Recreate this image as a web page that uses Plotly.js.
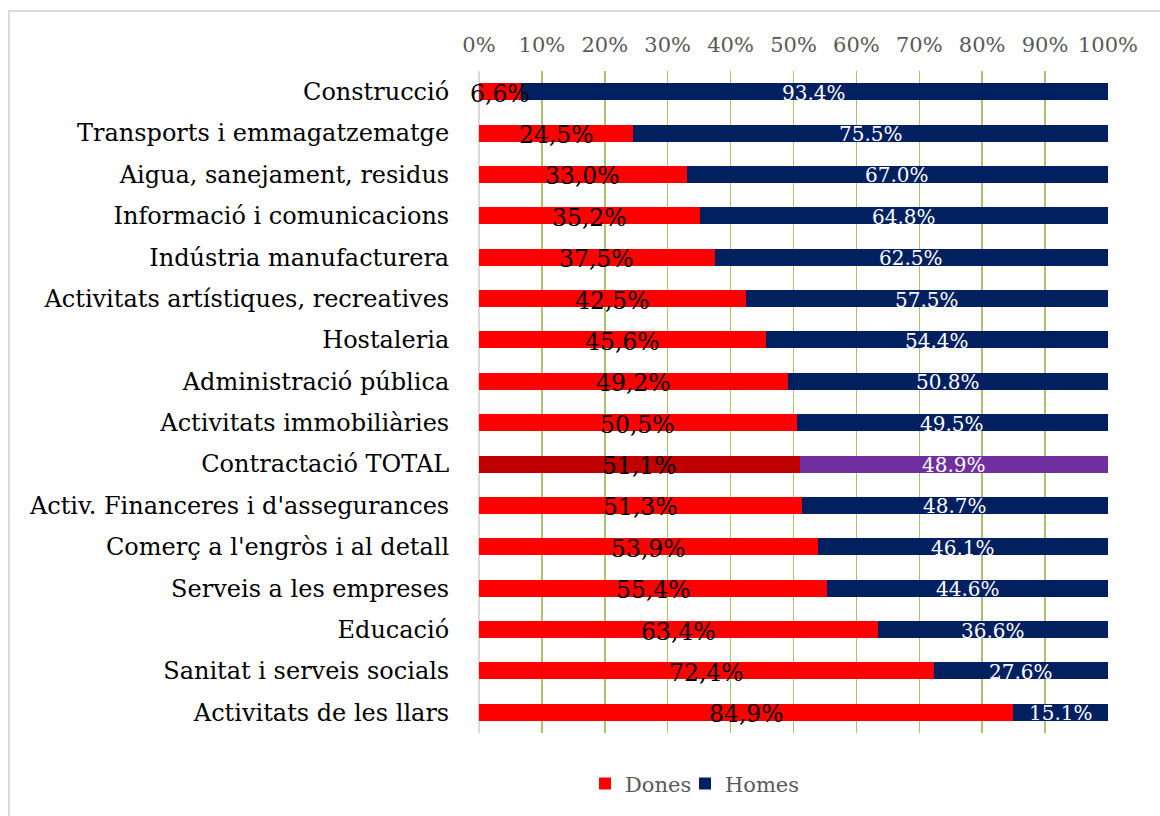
<!DOCTYPE html>
<html><head><meta charset="utf-8">
<script src="https://cdn.plot.ly/plotly-3.0.1.min.js"></script>
<style>
html,body{margin:0;padding:0;background:#fff;overflow:hidden;}
#frame{position:absolute;left:8px;top:10px;width:1200px;height:900px;border:2px solid #d9d9d9;box-sizing:border-box;}
#chart{position:absolute;left:0;top:0;width:1160px;height:816px;}
</style></head>
<body>
<div id="frame"></div>
<div id="chart"></div>
<script>
const categories = ["Construcció","Transports i emmagatzematge","Aigua, sanejament, residus","Informació i comunicacions","Indústria manufacturera","Activitats artístiques, recreatives","Hostaleria","Administració pública","Activitats immobiliàries","Contractació TOTAL","Activ. Financeres i d'assegurances","Comerç a l'engròs i al detall","Serveis a les empreses","Educació","Sanitat i serveis socials","Activitats de les llars"];
const dones = [6.6,24.5,33.0,35.2,37.5,42.5,45.6,49.2,50.5,51.1,51.3,53.9,55.4,63.4,72.4,84.9];
const homes = [93.4,75.5,67.0,64.8,62.5,57.5,54.4,50.8,49.5,48.9,48.7,46.1,44.6,36.6,27.6,15.1];
const tickVals = [0,10,20,30,40,50,60,70,80,90,100];
const tickText = ["0%","10%","20%","30%","40%","50%","60%","70%","80%","90%","100%"];

const SERIF = "DejaVu Serif";
const donesColors = categories.map(c => c === "Contractació TOTAL" ? "#C00000" : "#FF0000");
const homesColors = categories.map(c => c === "Contractació TOTAL" ? "#7030A0" : "#002060");

const traces = [
 {type:"bar", orientation:"h", name:"Dones", y:categories, x:dones,
  marker:{color:donesColors}, hoverinfo:"skip", legend:"legend"},
 {type:"bar", orientation:"h", name:"Homes", y:categories, x:homes,
  marker:{color:homesColors}, hoverinfo:"skip", legend:"legend2"}
];

const annotations = [];
categories.forEach((c,i)=>{
  annotations.push({x:dones[i]/2, y:c, xref:"x", yref:"y", showarrow:false,
    text:dones[i].toFixed(1).replace(".",",")+"%", yshift:-2,
    font:{family:SERIF,size:23.5,color:"#000"}});
  annotations.push({x:dones[i]+homes[i]/2, y:c, xref:"x", yref:"y", showarrow:false,
    text:homes[i].toFixed(1)+"%", yshift:-1,
    font:{family:SERIF,size:20,color:"#fff"}});
});

const legFont = {family:SERIF,size:21,color:"#595959"};
const layout = {
 width:1160, height:816,
 margin:{l:479, r:52, t:71, b:81},
 paper_bgcolor:"rgba(0,0,0,0)", plot_bgcolor:"rgba(0,0,0,0)",
 barmode:"stack", bargap:0.59,
 font:{family:SERIF},
 annotations:annotations,
 xaxis:{side:"top", range:[0,100], tickvals:tickVals, ticktext:tickText,
  showgrid:true, gridcolor:"#A6C46A", gridwidth:1.5,
  zeroline:true, zerolinecolor:"#d9d9d9", zerolinewidth:1.5,
  ticks:"outside", ticklen:10, tickcolor:"rgba(0,0,0,0)",
  tickfont:{family:SERIF,size:21,color:"#595959"}, fixedrange:true},
 yaxis:{range:[15.5,-0.5], showgrid:false, zeroline:false, showline:false,
  ticks:"outside", ticklen:24, tickcolor:"rgba(0,0,0,0)",
  tickfont:{family:SERIF,size:24,color:"#000"}, fixedrange:true},
 legend:{orientation:"h", x:0.1685, xanchor:"left", y:-0.077, yanchor:"middle",
  font:legFont, itemwidth:30},
 legend2:{orientation:"h", x:0.3275, xanchor:"left", y:-0.077, yanchor:"middle",
  font:legFont, itemwidth:30},
 showlegend:true
};
Plotly.newPlot("chart", traces, layout, {staticPlot:true, displayModeBar:false});
</script>
</body></html>
